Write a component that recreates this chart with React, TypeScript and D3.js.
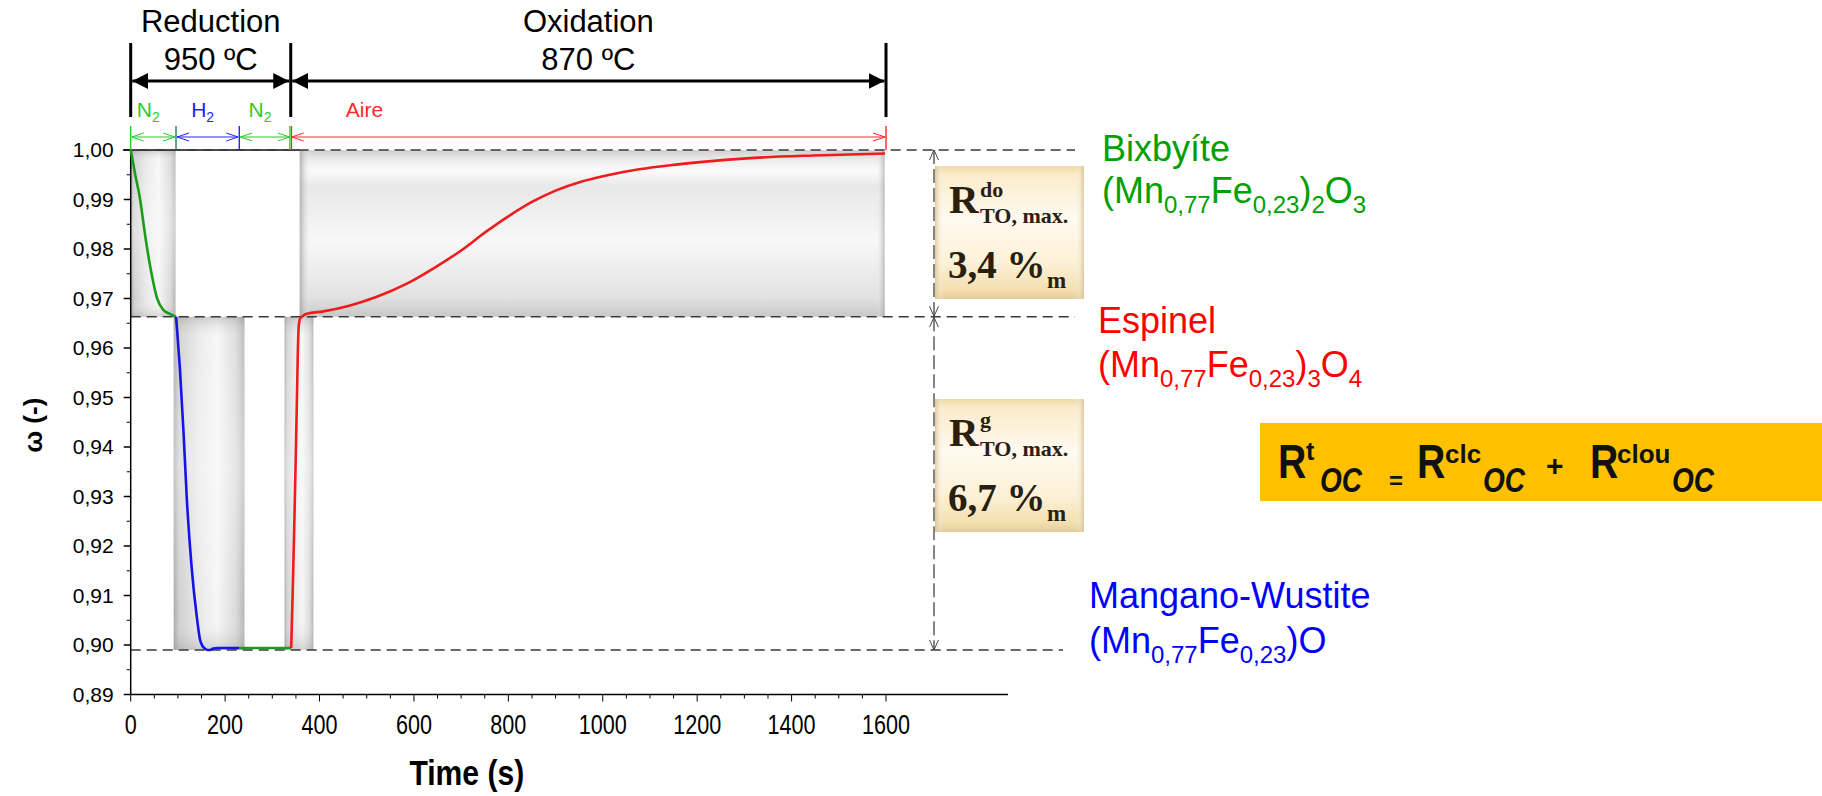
import * as d3 from 'd3'

const timeTicks = [0, 200, 400, 600, 800, 1000, 1200, 1400, 1600]
const omegaTicks = [0.89, 0.9, 0.91, 0.92, 0.93, 0.94, 0.95, 0.96, 0.97, 0.98, 0.99, 1.0]

// first N2 purge (green)
const n2aTime = [0, 4, 9, 20, 27, 35, 44, 56, 69, 83, 96]
const n2aOmega = [1.0, 0.998, 0.9953, 0.99, 0.9852, 0.98, 0.9751, 0.97, 0.9677, 0.9669, 0.9663]
// H2 reduction (blue)
const h2Time = [96, 98, 104, 112, 119, 129, 140, 147, 152, 157, 163, 168, 175, 182, 230]
const h2Omega = [0.9663, 0.964, 0.9562, 0.9428, 0.9293, 0.9158, 0.9057, 0.901, 0.8998, 0.8993, 0.899, 0.899, 0.8993, 0.8994, 0.8994]
// second N2 purge (green)
const n2bTime = [230, 340]
const n2bOmega = [0.8994, 0.8994]
// air oxidation (red)
const airTime = [340, 343, 346, 349, 352, 354, 356, 359, 365, 373, 408, 461, 520, 585, 645, 700, 750, 800, 850, 900, 954, 1010, 1077, 1150, 1200, 1320, 1446, 1598]
const airOmega = [0.8994, 0.91, 0.922, 0.935, 0.949, 0.959, 0.9645, 0.966, 0.9665, 0.9669, 0.9674, 0.9685, 0.9703, 0.973, 0.9763, 0.9797, 0.9833, 0.9866, 0.9895, 0.9918, 0.9936, 0.9949, 0.9961, 0.997, 0.9975, 0.9984, 0.9989, 0.9993]

const gasNames = ['N', 'H', 'N', 'Aire']
const gasSub = ['2', '2', '2', '']
const gasBounds = [0, 96, 230, 339, 1600]
const stageNames = ['Reduction', 'Oxidation']
const stageTemps = ['950 ºC', '870 ºC']
const stageBounds = [0, 339, 1600]

// plateau levels: bixbyite, spinel, mangano-wustite
const levelOmega = [1.0, 0.9663, 0.899]

// shaded tubes behind each step
const tubeStart = [0, 91, 326, 358]
const tubeEnd = [95, 241, 387, 1597]
const tubeLow = [0.9663, 0.899, 0.899, 0.9663]
const tubeHigh = [1.0, 0.9663, 0.9663, 1.0]

const capSup = ['do', 'g']
const capValue = ['3,4 %', '6,7 %']

const sans = "'Liberation Sans', Arial, sans-serif"
const serif = "'Liberation Serif', 'Times New Roman', serif"

type Part = [string, boolean]
const bixbyite: Part[] = [['(Mn', false], ['0,77', true], ['Fe', false], ['0,23', true], [')', false], ['2', true], ['O', false], ['3', true]]
const spinel: Part[] = [['(Mn', false], ['0,77', true], ['Fe', false], ['0,23', true], [')', false], ['3', true], ['O', false], ['4', true]]
const wustite: Part[] = [['(Mn', false], ['0,77', true], ['Fe', false], ['0,23', true], [')O', false]]

function Formula({ x, y, color, parts }: { x: number; y: number; color: string; parts: Part[] }) {
  let prevSub = false
  return (
    <text x={x} y={y} fill={color} fontFamily={sans} fontSize={36}>
      {parts.map(([s, sub], i) => {
        const dy = sub === prevSub ? 0 : sub ? 10 : -10
        prevSub = sub
        return (
          <tspan key={i} dy={dy} fontSize={sub ? 24 : 36}>
            {s}
          </tspan>
        )
      })}
    </text>
  )
}

function pairs(t: number[], w: number[]) {
  return t.map((v, i) => [v, w[i]] as [number, number])
}

export default function App() {
  const x = d3.scaleLinear().domain([0, 1600]).range([130.7, 886])
  const y = d3.scaleLinear().domain([0.89, 1.0]).range([694.5, 150])
  const line = d3
    .line<[number, number]>()
    .x((d) => x(d[0]))
    .y((d) => y(d[1]))
    .curve(d3.curveMonotoneX)
  const fmt = (v: number) => d3.format('.2f')(v).replace('.', ',')

  const minorX = d3.range(0, 1601, 50)
  const minorY = d3.range(0.895, 1.0, 0.01)
  const axisRight = 1008
  const dimX = 934

  const curves = [
    { d: pairs(n2aTime, n2aOmega), c: '#1a9e1a' },
    { d: pairs(h2Time, h2Omega), c: '#1414e6' },
    { d: pairs(n2bTime, n2bOmega), c: '#1a9e1a' },
    { d: pairs(airTime, airOmega), c: '#ee1c1c' },
  ]
  const gasColors = ['#2ec82e', '#2424ff', '#2ec82e', '#ff2a2a']
  const gasTickColors = ['#2ec82e', '#1f7f5f', '#2424ff', '#2ec82e', '#ff2a2a']

  return (
    <svg
      width={1822}
      height={796}
      style={{ position: 'absolute', left: 0, top: 0, background: '#fff' }}
    >
      <defs>
        <marker id="blackHead" viewBox="0 0 16 16" markerWidth={16} markerHeight={16} refX={16} refY={8} orient="auto-start-reverse" markerUnits="userSpaceOnUse">
          <path d="M0,0 L16,8 L0,16 z" fill="#000" />
        </marker>
        {gasColors.map((c, i) => (
          <marker key={i} id={`chev${i}`} viewBox="0 0 12 10" markerWidth={12} markerHeight={10} refX={12} refY={5} orient="auto-start-reverse" markerUnits="userSpaceOnUse">
            <path d="M0,1 L12,5 L0,9" fill="none" stroke={c} strokeWidth={1} />
          </marker>
        ))}
        <marker id="chevGray" viewBox="0 0 10 12" markerWidth={10} markerHeight={12} refX={10} refY={6} orient="auto-start-reverse" markerUnits="userSpaceOnUse">
          <path d="M0,1.5 L10,6 L0,10.5" fill="none" stroke="#444" strokeWidth={1} />
        </marker>
        <linearGradient id="tubeV" x1="0" x2="1" y1="0" y2="0">
          <stop offset="0" stopColor="#a8a8a8" />
          <stop offset="0.08" stopColor="#d0d0d0" />
          <stop offset="0.35" stopColor="#e9e9e9" />
          <stop offset="0.62" stopColor="#f6f6f6" />
          <stop offset="0.88" stopColor="#dadada" />
          <stop offset="1" stopColor="#b6b6b6" />
        </linearGradient>
        <linearGradient id="tubeVshade" x1="0" x2="0" y1="0" y2="1">
          <stop offset="0" stopColor="#888" stopOpacity="0.35" />
          <stop offset="0.06" stopColor="#fff" stopOpacity="0.1" />
          <stop offset="0.45" stopColor="#fff" stopOpacity="0.35" />
          <stop offset="0.9" stopColor="#fff" stopOpacity="0" />
          <stop offset="1" stopColor="#888" stopOpacity="0.3" />
        </linearGradient>
        <linearGradient id="tubeH" x1="0" x2="0" y1="0" y2="1">
          <stop offset="0" stopColor="#cfcfcf" />
          <stop offset="0.06" stopColor="#ececec" />
          <stop offset="0.12" stopColor="#fbfbfb" />
          <stop offset="0.22" stopColor="#e8e8e8" />
          <stop offset="0.55" stopColor="#f8f8f8" />
          <stop offset="0.88" stopColor="#e2e2e2" />
          <stop offset="1" stopColor="#c8c8c8" />
        </linearGradient>
        <linearGradient id="tubeHshade" x1="0" x2="1" y1="0" y2="0">
          <stop offset="0" stopColor="#999" stopOpacity="0.7" />
          <stop offset="0.02" stopColor="#fff" stopOpacity="0" />
          <stop offset="0.985" stopColor="#fff" stopOpacity="0" />
          <stop offset="1" stopColor="#999" stopOpacity="0.6" />
        </linearGradient>
        <linearGradient id="cream" x1="0" x2="0" y1="0" y2="1">
          <stop offset="0" stopColor="#efd9a6" />
          <stop offset="0.07" stopColor="#fbeccb" />
          <stop offset="0.4" stopColor="#fffaf0" />
          <stop offset="0.72" stopColor="#fdf2d8" />
          <stop offset="0.93" stopColor="#f3dfb0" />
          <stop offset="1" stopColor="#e2cc9c" />
        </linearGradient>
        <linearGradient id="creamShade" x1="0" x2="1" y1="0" y2="0">
          <stop offset="0" stopColor="#d8c090" stopOpacity="0.8" />
          <stop offset="0.06" stopColor="#fff" stopOpacity="0" />
          <stop offset="0.94" stopColor="#fff" stopOpacity="0" />
          <stop offset="1" stopColor="#d8c090" stopOpacity="0.8" />
        </linearGradient>
      </defs>

      {/* shaded tubes */}
      {tubeStart.map((t0, i) => {
        const rx = x(t0)
        const rw = x(tubeEnd[i]) - rx
        const ry = y(tubeHigh[i])
        const rh = y(tubeLow[i]) - ry
        const horiz = i === 3
        return (
          <g key={`tube-${i}`}>
            <rect x={rx} y={ry} width={rw} height={rh} fill={horiz ? 'url(#tubeH)' : 'url(#tubeV)'} />
            <rect x={rx} y={ry} width={rw} height={rh} fill={horiz ? 'url(#tubeHshade)' : 'url(#tubeVshade)'} />
          </g>
        )
      })}

      {/* plateau reference lines */}
      <line x1={x(0)} x2={x(358)} y1={y(levelOmega[0])} y2={y(levelOmega[0])} stroke="#111" strokeWidth={1.5} />
      {levelOmega.map((w, i) => (
        <line
          key={`lvl-${i}`}
          x1={i === 0 ? x(0) - 8 : x(0)}
          x2={i === 2 ? 1063 : 1075}
          y1={y(w)}
          y2={y(w)}
          stroke="#3a3a3a"
          strokeWidth={1.5}
          strokeDasharray="10 6"
        />
      ))}

      {/* y axis */}
      <line x1={x(0)} x2={x(0)} y1={y(0.89)} y2={y(1.0)} stroke="#000" strokeWidth={1.5} />
      {omegaTicks.map((v) => (
        <g key={`yt-${v}`}>
          <line x1={x(0) - 7} x2={x(0)} y1={y(v)} y2={y(v)} stroke="#000" strokeWidth={1.5} />
          <text x={x(0) - 17} y={y(v)} dy="0.35em" textAnchor="end" fontFamily={sans} fontSize={21}>
            {fmt(v)}
          </text>
        </g>
      ))}
      {minorY.map((v) => (
        <line key={`ym-${v}`} x1={x(0) - 4} x2={x(0)} y1={y(v)} y2={y(v)} stroke="#000" strokeWidth={1} />
      ))}
      <text transform={`translate(42, ${(y(0.89) + y(1)) / 2 + 3}) rotate(-90)`} textAnchor="middle" fontFamily={sans} fontWeight="bold" fontSize={26}>
        ω (-)
      </text>

      {/* x axis */}
      <line x1={x(0)} x2={axisRight} y1={y(0.89)} y2={y(0.89)} stroke="#000" strokeWidth={1.5} />
      {minorX.map((v) => (
        <line key={`xm-${v}`} x1={x(v)} x2={x(v)} y1={y(0.89)} y2={y(0.89) + (v % 200 === 0 ? 7 : 4)} stroke="#000" strokeWidth={1} />
      ))}
      {timeTicks.map((v) => (
        <text key={`xt-${v}`} transform={`translate(${x(v)}, 734) scale(0.8, 1)`} textAnchor="middle" fontFamily={sans} fontSize={27}>
          {v}
        </text>
      ))}
      <text transform={`translate(${x(712)}, 785) scale(0.86, 1)`} textAnchor="middle" fontFamily={sans} fontWeight="bold" fontSize={35}>
        Time (s)
      </text>

      {/* curves */}
      {curves.map((c, i) => (
        <path key={`curve-${i}`} d={line(c.d) || ''} fill="none" stroke={c.c} strokeWidth={2.6} strokeLinejoin="round" />
      ))}

      {/* stage arrows */}
      {stageBounds.map((t, i) => (
        <line key={`sb-${i}`} x1={x(t)} x2={x(t)} y1={43} y2={117} stroke="#000" strokeWidth={3} />
      ))}
      {stageNames.map((name, i) => {
        const a = x(stageBounds[i])
        const b = x(stageBounds[i + 1])
        const mid = (a + b) / 2
        return (
          <g key={`stage-${i}`}>
            <line x1={a + 1.5} x2={b - 1.5} y1={81} y2={81} stroke="#000" strokeWidth={3} markerStart="url(#blackHead)" markerEnd="url(#blackHead)" />
            <text x={mid} y={32} textAnchor="middle" fontFamily={sans} fontSize={31}>
              {name}
            </text>
            <text x={mid} y={70} textAnchor="middle" fontFamily={sans} fontSize={31}>
              {stageTemps[i]}
            </text>
          </g>
        )
      })}

      {/* gas steps */}
      {gasBounds.map((t, i) => (
        <line key={`gb-${i}`} x1={x(t) + (i === 3 ? -0.8 : 0)} x2={x(t) + (i === 3 ? -0.8 : 0)} y1={126} y2={150} stroke={gasTickColors[i]} strokeWidth={1.4} />
      ))}
      <line x1={x(339) + 0.8} x2={x(339) + 0.8} y1={126} y2={150} stroke="#ff2a2a" strokeWidth={1.2} />
      {gasNames.map((g, i) => {
        const a = x(gasBounds[i])
        const b = x(gasBounds[i + 1])
        const last = i === 3
        return (
          <g key={`gas-${i}`}>
            <line x1={a + 1} x2={b - 1} y1={137} y2={137} stroke={gasColors[i]} strokeWidth={1.2} markerStart={`url(#chev${i})`} markerEnd={`url(#chev${i})`} />
            <text x={last ? a + 55 : (a + b) / 2 - 5} y={117} textAnchor={last ? 'start' : 'middle'} fill={gasColors[i]} fontFamily={sans} fontSize={21}>
              {g}
              {gasSub[i] && (
                <tspan dy={5} fontSize={14}>
                  {gasSub[i]}
                </tspan>
              )}
            </text>
          </g>
        )
      })}

      {/* capacity dimension line */}
      <line x1={dimX} x2={dimX} y1={y(levelOmega[0])} y2={y(levelOmega[1]) - 0.5} stroke="#444" strokeWidth={1.3} strokeDasharray="14 5" markerStart="url(#chevGray)" markerEnd="url(#chevGray)" />
      <line x1={dimX} x2={dimX} y1={y(levelOmega[1]) + 0.5} y2={y(levelOmega[2])} stroke="#444" strokeWidth={1.3} strokeDasharray="14 5" markerStart="url(#chevGray)" markerEnd="url(#chevGray)" />

      {/* capacity boxes */}
      {capSup.map((s, i) => {
        const top = i === 0 ? 166 : 399
        return (
          <g key={`cap-${i}`}>
            <rect x={935} y={top} width={149} height={133} fill="url(#cream)" />
            <rect x={935} y={top} width={149} height={133} fill="url(#creamShade)" />
            <g fill="#2a2010" fontFamily={serif} fontWeight="bold">
              <text x={949} y={top + 47} fontSize={41}>R</text>
              <text x={980} y={top + (i === 0 ? 31 : 28)} fontSize={22}>{s}</text>
              <text x={980} y={top + 57} fontSize={22}>TO, max.</text>
              <text x={948} y={top + 112} fontSize={39}>{capValue[i]}</text>
              <text x={1047} y={top + 122} fontSize={23}>m</text>
            </g>
          </g>
        )
      })}

      {/* phase labels */}
      <text x={1102} y={161} fill="#00a000" fontFamily={sans} fontSize={36}>Bixbyíte</text>
      <Formula x={1102} y={203} color="#00a000" parts={bixbyite} />
      <text x={1098} y={333} fill="#ff0000" fontFamily={sans} fontSize={36}>Espinel</text>
      <Formula x={1098} y={377} color="#ff0000" parts={spinel} />
      <text x={1089} y={608} fill="#0000ff" fontFamily={sans} fontSize={36}>Mangano-Wustite</text>
      <Formula x={1089} y={653} color="#0000ff" parts={wustite} />

      {/* oxygen transport capacity formula */}
      <rect x={1260} y={423} width={562} height={78} fill="#ffc000" />
      <g fill="#111" fontFamily={sans} fontWeight="bold">
        <text transform="translate(1278, 478) scale(0.8, 1)" fontSize={49}>R</text>
        <text x={1306} y={460} fontSize={25}>t</text>
        <text transform="translate(1320, 492) scale(0.8, 1)" fontSize={35} fontStyle="italic">OC</text>
        <text x={1389} y={489} fontSize={24}>=</text>
        <text transform="translate(1417, 478) scale(0.8, 1)" fontSize={49}>R</text>
        <text x={1445} y={463} fontSize={26}>clc</text>
        <text transform="translate(1483, 492) scale(0.8, 1)" fontSize={35} fontStyle="italic">OC</text>
        <text x={1546} y={476} fontSize={30}>+</text>
        <text transform="translate(1590, 478) scale(0.8, 1)" fontSize={49}>R</text>
        <text x={1617} y={463} fontSize={26}>clou</text>
        <text transform="translate(1672, 492) scale(0.8, 1)" fontSize={35} fontStyle="italic">OC</text>
      </g>
    </svg>
  )
}
